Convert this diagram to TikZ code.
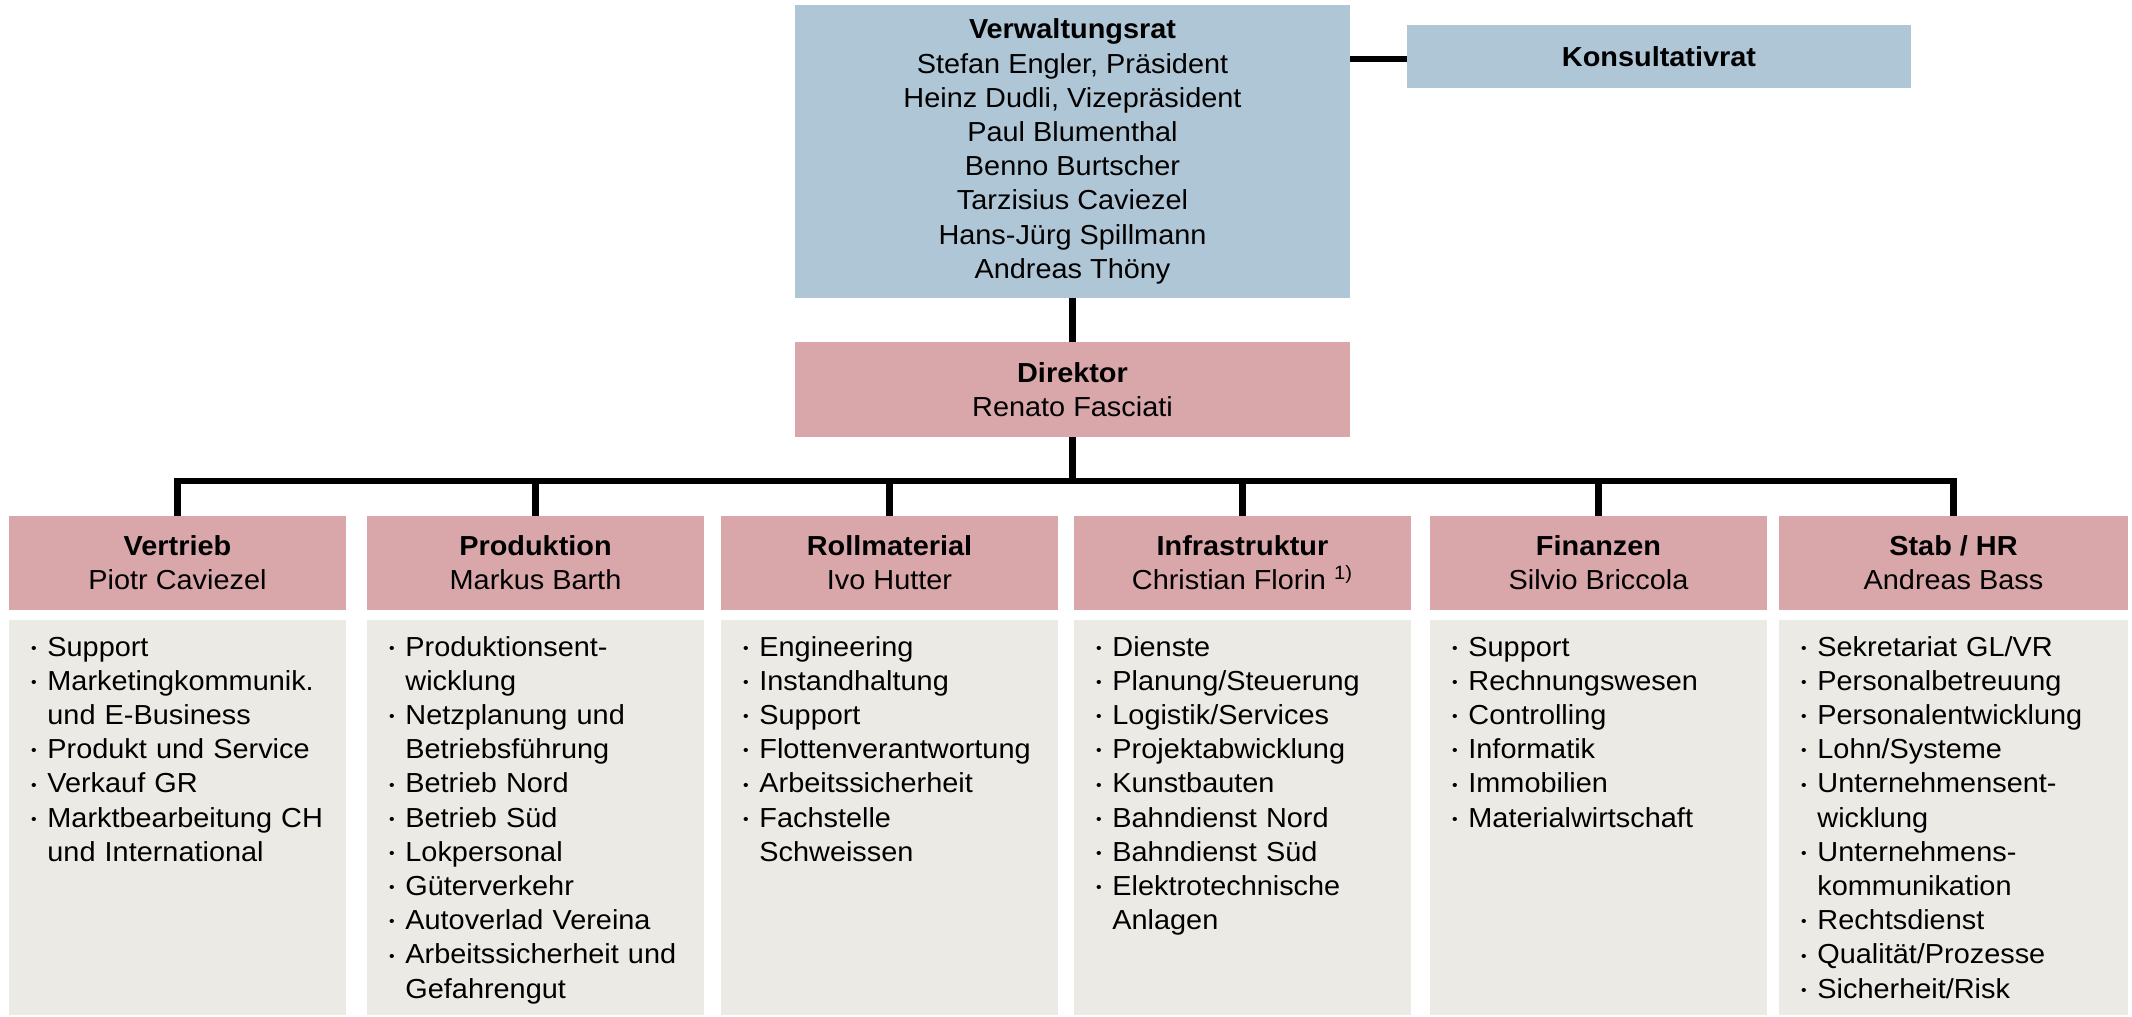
\documentclass[tikz,border=0pt]{standalone}
\usepackage{fontspec}
\setmainfont{Liberation Sans}[FakeStretch=1.05]
\usepackage{graphicx}
\usetikzlibrary{positioning}
\definecolor{vrblue}{RGB}{175,198,214}
\definecolor{leadred}{RGB}{217,166,170}
\definecolor{listgrey}{RGB}{235,234,228}
\newcommand\blt{\leavevmode\llap{\raisebox{0.1em}{\scalebox{0.55}{\textbullet}}\hspace{5.4pt}}}
\tikzset{
    board/.style ={
        fill=vrblue,
        align=center,
        inner sep=0pt,
        minimum width=277.5pt
    },
    chief/.style ={
        fill=leadred,
        align=center,
        inner sep=0pt,
        minimum width=277.5pt,
        minimum height=47.5pt
    },
    dept/.style ={
        fill=leadred,
        align=center,
        inner sep=0pt,
        minimum width=168.5pt,
        minimum height=47pt
    },
    tasks/.style ={
        fill=listgrey,
        inner sep=0pt,
        minimum width=168.5pt,
        minimum height=197.5pt
    },
    items/.style ={
        anchor=base west,
        inner sep=0pt,
        text width=160pt,
        align=left
    },
    link/.style ={
        line width=3.25pt
    }
}

\begin{document}
\begin{tikzpicture}[x=0.5pt,y=-0.5pt,
    every node/.style={font=\fontsize{13.75}{17.1}\selectfont}]
    \useasboundingbox (0,0) rectangle (2132,1017);

    \node[board,minimum height=146.5pt] (vr) at(1072.5,151.5)
        {\textbf{Verwaltungsrat}\\Stefan Engler, Präsident\\Heinz Dudli, Vizepräsident\\
         Paul Blumenthal\\Benno Burtscher\\Tarzisius Caviezel\\Hans-Jürg Spillmann\\Andreas Thöny};
    \node[board,minimum width=252pt,minimum height=31.5pt] (kons) at(1659,56.5) {\textbf{Konsultativrat}};
    \node[chief] (dir) at(1072.5,389.5) {\textbf{Direktor}\\Renato Fasciati};

    \node[dept] (vertrieb) at(177.5,563) {\textbf{Vertrieb}\\Piotr Caviezel};
    \node[dept] (produktion) at(535.5,563) {\textbf{Produktion}\\Markus Barth};
    \node[dept] (rollmaterial) at(889.5,563) {\textbf{Rollmaterial}\\Ivo Hutter};
    \node[dept] (infra) at(1242.5,563) {\textbf{Infrastruktur}\\Christian Florin \textsuperscript{1)}};
    \node[dept] (finanzen) at(1598.5,563) {\textbf{Finanzen}\\Silvio Briccola};
    \node[dept,minimum width=174.5pt] (stab) at(1953.5,563) {\textbf{Stab / HR}\\Andreas Bass};

    \node[tasks] (vertrieb-t) at(177.5,817.5) {};
    \node[tasks] (produktion-t) at(535.5,817.5) {};
    \node[tasks] (rollmaterial-t) at(889.5,817.5) {};
    \node[tasks] (infra-t) at(1242.5,817.5) {};
    \node[tasks] (finanzen-t) at(1598.5,817.5) {};
    \node[tasks,minimum width=174.5pt] (stab-t) at(1953.5,817.5) {};

    \node[items] (vertrieb-l) at(47,656)
        {\blt Support\\\blt Marketingkommunik.\\und E-Business\\\blt Produkt und Service\\
         \blt Verkauf GR\\\blt Marktbearbeitung CH\\und International};
    \node[items] (produktion-l) at(405,656)
        {\blt Produktionsent-\\wicklung\\\blt Netzplanung und\\Betriebsführung\\\blt Betrieb Nord\\
         \blt Betrieb Süd\\\blt Lokpersonal\\\blt Güterverkehr\\\blt Autoverlad Vereina\\
         \blt Arbeitssicherheit und\\Gefahrengut};
    \node[items] (rollmaterial-l) at(759,656)
        {\blt Engineering\\\blt Instandhaltung\\\blt Support\\\blt Flottenverantwortung\\
         \blt Arbeitssicherheit\\\blt Fachstelle\\Schweissen};
    \node[items] (infra-l) at(1112,656)
        {\blt Dienste\\\blt Planung/Steuerung\\\blt Logistik/Services\\\blt Projektabwicklung\\
         \blt Kunstbauten\\\blt Bahndienst Nord\\\blt Bahndienst Süd\\\blt Elektrotechnische\\Anlagen};
    \node[items] (finanzen-l) at(1468,656)
        {\blt Support\\\blt Rechnungswesen\\\blt Controlling\\\blt Informatik\\
         \blt Immobilien\\\blt Materialwirtschaft};
    \node[items] (stab-l) at(1817,656)
        {\blt Sekretariat GL/VR\\\blt Personalbetreuung\\\blt Personalentwicklung\\\blt Lohn/Systeme\\
         \blt Unternehmensent-\\wicklung\\\blt Unternehmens-\\kommunikation\\\blt Rechtsdienst\\
         \blt Qualität/Prozesse\\\blt Sicherheit/Risk};

    \coordinate (bus) at(1072.5,481);
    \draw[link] (vr) -- (dir);
    \draw[link] ([yshift=-1.25pt]kons.west) -- ([yshift=-1.25pt]kons.west -| vr.east);
    \draw[link] (dir) -- (bus);
    \draw[link] (vertrieb.north) |- (bus) -| (stab.north);
    \foreach \d in {produktion,rollmaterial,infra,finanzen}
        \draw[link] (\d.north) -- (\d.north |- bus);
\end{tikzpicture}
\end{document}
